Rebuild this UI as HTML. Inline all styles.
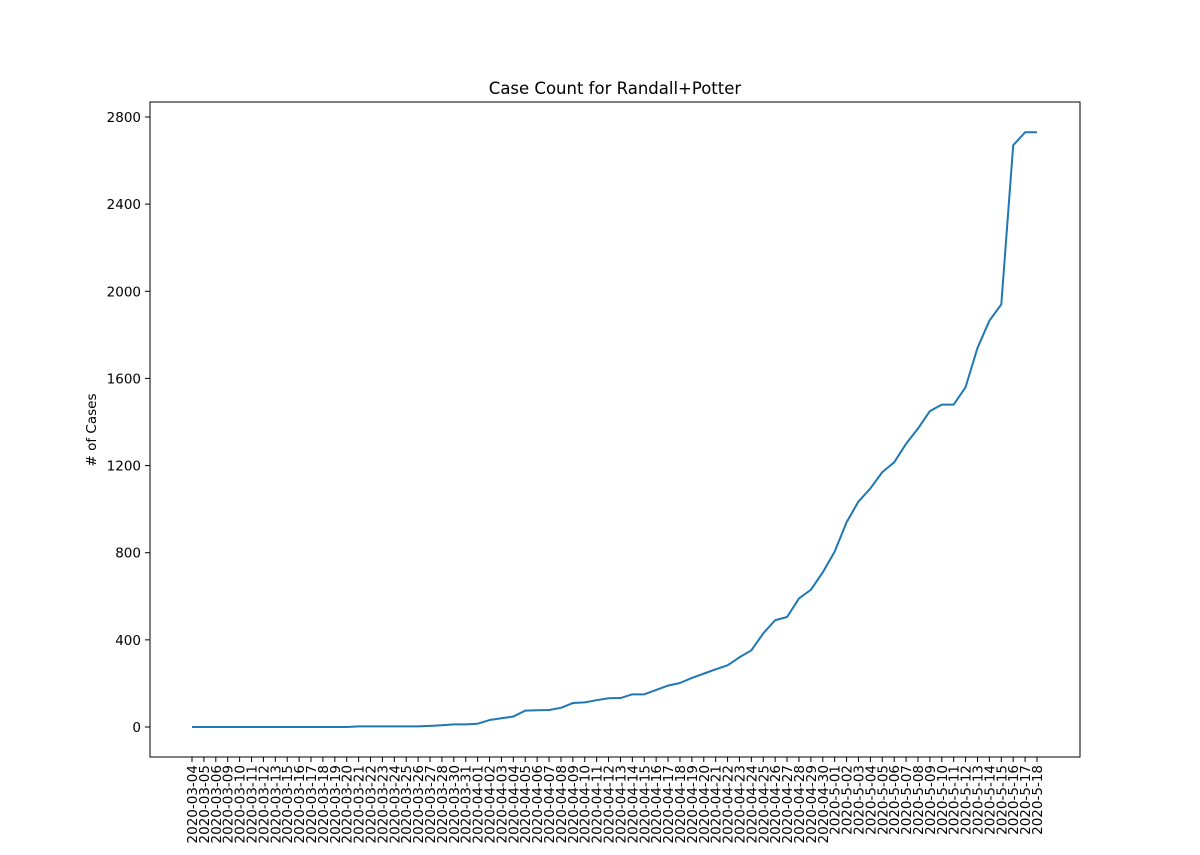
<!DOCTYPE html>
<html><head><meta charset="utf-8"><style>
body{margin:0;background:#fff;}
svg text{font-family:"DejaVu Sans","Liberation Sans",sans-serif;fill:#000;}
</style></head><body>
<svg id="chart" width="1200" height="850" xmlns="http://www.w3.org/2000/svg">
<rect width="1200" height="850" fill="#fff"/>
<text x="615" y="94" text-anchor="middle" font-size="16.5">Case Count for Randall+Potter</text>
<text transform="translate(96,430) rotate(-90)" text-anchor="middle" font-size="13.5"># of Cases</text>
<g id="yticks"></g><g id="xticks"></g>
<polyline id="line" fill="none" stroke="#1f77b4" stroke-width="2" stroke-linejoin="round"/>
<rect x="150" y="102" width="930" height="655" fill="none" stroke="#000" stroke-width="1"/>
</svg>
<script>
const dates = ["2020-03-04","2020-03-05","2020-03-06","2020-03-09","2020-03-10","2020-03-11","2020-03-12","2020-03-13","2020-03-15","2020-03-16","2020-03-17","2020-03-18","2020-03-19","2020-03-20","2020-03-21","2020-03-22","2020-03-23","2020-03-24","2020-03-25","2020-03-26","2020-03-27","2020-03-28","2020-03-30","2020-03-31","2020-04-01","2020-04-02","2020-04-03","2020-04-04","2020-04-05","2020-04-06","2020-04-07","2020-04-08","2020-04-09","2020-04-10","2020-04-11","2020-04-12","2020-04-13","2020-04-14","2020-04-15","2020-04-16","2020-04-17","2020-04-18","2020-04-19","2020-04-20","2020-04-21","2020-04-22","2020-04-23","2020-04-24","2020-04-25","2020-04-26","2020-04-27","2020-04-28","2020-04-29","2020-04-30","2020-5-01","2020-5-02","2020-5-03","2020-5-04","2020-5-05","2020-5-06","2020-5-07","2020-5-08","2020-5-09","2020-5-10","2020-5-11","2020-5-12","2020-5-13","2020-5-14","2020-5-15","2020-5-16","2020-5-17","2020-5-18"];
const cases = [0,0,0,0,0,0,0,0,0,0,0,0,0,0,3,3,3,3,3,3,5,8,12,12,15,32,40,48,75,77,78,88,110,113,123,132,133,150,150,170,190,202,225,245,265,283,320,352,430,490,505,590,630,710,805,940,1035,1095,1170,1215,1300,1370,1450,1480,1480,1560,1740,1865,1940,2670,2730,2730];
const yTicks = [0,400,800,1200,1600,2000,2400,2800];
const NS="http://www.w3.org/2000/svg";
const xS = i => 192 + i*(1037-192)/(dates.length-1);
const yS = v => 727 - v*(727-117)/2800;
const yg=document.getElementById('yticks'), xg=document.getElementById('xticks');
yTicks.forEach(t=>{
  const l=document.createElementNS(NS,'line');
  l.setAttribute('x1',145);l.setAttribute('x2',150);l.setAttribute('y1',yS(t));l.setAttribute('y2',yS(t));l.setAttribute('stroke','#000');
  
  
  yg.appendChild(l);
  const tx=document.createElementNS(NS,'text');
  tx.setAttribute('x',141);tx.setAttribute('y',yS(t)+5);tx.setAttribute('text-anchor','end');tx.setAttribute('font-size','13.5');
  tx.textContent=t;
  
  
  yg.appendChild(tx);
});
dates.forEach((d,i)=>{
  const x=xS(i);
  const l=document.createElementNS(NS,'line');
  l.setAttribute('x1',x);l.setAttribute('x2',x);l.setAttribute('y1',757);l.setAttribute('y2',762);l.setAttribute('stroke','#000');
  
  
  xg.appendChild(l);
  const tx=document.createElementNS(NS,'text');
  tx.setAttribute('transform',`translate(${x+5},765) rotate(-90)`);tx.setAttribute('text-anchor','end');tx.setAttribute('font-size','13.5');
  tx.textContent=d;
  
  
  xg.appendChild(tx);
});
document.getElementById('line').setAttribute('points',cases.map((v,i)=>xS(i)+','+yS(v)).join(' '));
</script>
</body></html>
